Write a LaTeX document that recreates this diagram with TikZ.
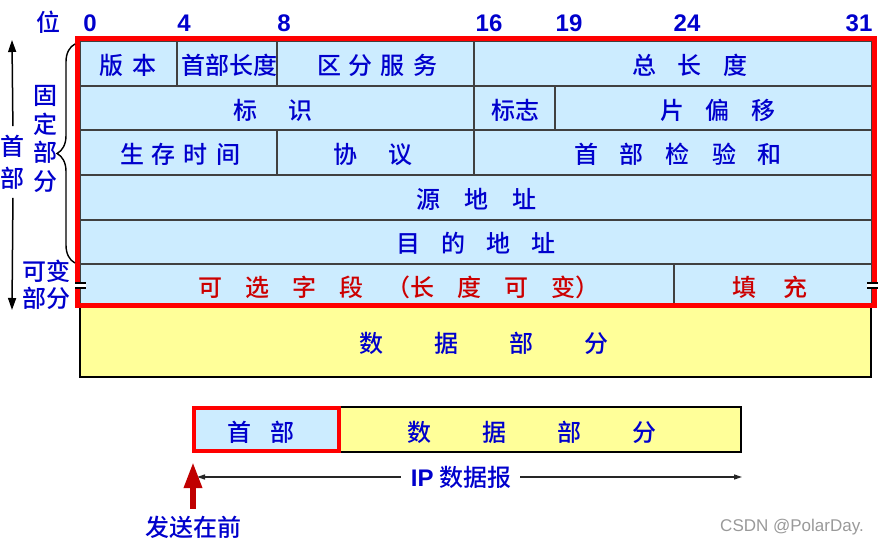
\documentclass[tikz,border=0pt]{standalone}
\usepackage{fontspec}
\setmainfont{Noto Sans CJK SC}[BoldFont={Noto Sans CJK SC Medium}]
\setsansfont{Liberation Sans}
\usepackage{tikz}
\usetikzlibrary{arrows.meta}
\usetikzlibrary{decorations.pathreplacing}
\definecolor{hdrblue}{RGB}{204,236,255}
\definecolor{datayellow}{RGB}{255,255,153}
\definecolor{txtblue}{RGB}{0,0,204}
\definecolor{txtred}{RGB}{204,0,0}
\definecolor{framered}{RGB}{255,0,0}
\definecolor{sendred}{RGB}{192,0,0}
\newcommand{\gp}[1]{\hspace{#1pt}}
\tikzset{
  cell/.style={draw=black!75, line width=1.2pt, fill=hdrblue},
  datacell/.style={draw=black, line width=1.8pt, fill=datayellow},
  lbl/.style={text=txtblue, inner sep=0pt, font=\fontsize{24}{28}\selectfont\bfseries},
  bitlbl/.style={text=txtblue, inner sep=0pt, font=\fontsize{24}{26}\selectfont\sffamily\bfseries},
  vec/.style={-{Triangle[length=12pt,width=8pt]}, line width=1.5pt, black},
  thinarrow/.style={-{Triangle[length=8pt,width=5pt]}, line width=1.3pt, black!85},
}

\begin{document}
\begin{tikzpicture}[x=1pt,y=-1pt]
\useasboundingbox (0,0) rectangle (884,545);
% bit positions
\node[lbl] (wei) at (48,22) {位};
\foreach \x/\b in {90/0, 184/4, 284/8, 489/16, 569/19, 687/24, 859/31} {
\node[bitlbl] (bit\b) at (\x,23) {\b};
}
% header fields
\foreach \xa/\ya/\xb/\yb in {80/41/177/86, 177/41/277/86, 277/41/474/86, 474/41/872/86,
  80/86/474/130, 474/86/555/130, 555/86/872/130,
  80/130/277/175, 277/130/474/175, 474/130/872/175,
  80/175/872/220, 80/220/872/264, 80/264/674/305, 674/264/872/305} {
\draw[cell] (\xa,\ya) rectangle (\xb,\yb);
}
\draw[datacell] (80,305) rectangle (871,377);
\node[lbl] (ver) at (128,65) {版\gp{9}本};
\node[lbl] (ihl) at (229,65) {首部长度};
\node[lbl] (tos) at (377,65) {区\gp{8}分\gp{8}服\gp{8}务};
\node[lbl] (totlen) at (690,65) {总\gp{22}长\gp{22}度};
\node[lbl] (ident) at (273,110) {标\gp{31}识};
\node[lbl] (flags) at (515,110) {标志};
\node[lbl] (frag) at (718,110) {片\gp{22}偏\gp{22}移};
\node[lbl] (ttl) at (180,154) {生\gp{8}存\gp{8}时\gp{8}间};
\node[lbl] (proto) at (373,154) {协\gp{31}议};
\node[lbl] (csum) at (678,154) {首\gp{22}部\gp{22}检\gp{22}验\gp{22}和};
\node[lbl] (src) at (476,199) {源\gp{24}地\gp{24}址};
\node[lbl] (dst) at (476,243) {目\gp{21}的\gp{21}地\gp{21}址};
\node[lbl, text=txtred] (opt) at (399,287) {可\gp{23}选\gp{23}字\gp{23}段\gp{23}（长\gp{23}度\gp{23}可\gp{23}变）};
\node[lbl, text=txtred] (pad) at (770,287) {填\gp{28}充};
\node[lbl] (data) at (484,343) {数\gp{51}据\gp{51}部\gp{51}分};
% red frame round the header
\draw[framered, line width=5pt] (77.5,38.5) rectangle (874.5,305.5);
% break marks of the variable part
\fill[white] (75,282) rectangle (86,289);
\draw[black, line width=1.3pt] (75,283) -- (86,283) (75,288) -- (86,288);
\fill[white] (867,282) rectangle (878,289);
\draw[black, line width=1.3pt] (867,283) -- (878,283) (867,288) -- (878,288);
% left side labels
\node[lbl, align=center, font=\fontsize{24}{32}\selectfont\bfseries] (hdr) at (13,162.5) {首\\部};
\coordinate (hdrtop) at (12,40);
\coordinate (hdrbot) at (12,310);
\draw[vec, shorten <=9pt] (hdr.north) -- (hdrtop);
\draw[vec, shorten <=8pt] (hdr.south) -- (hdrbot);
\node[lbl, align=center, font=\fontsize{24}{28.5}\selectfont\bfseries] (fixed) at (46,139) {固\\定\\部\\分};
\node[lbl, align=center, font=\fontsize{24}{27.5}\selectfont\bfseries] (var) at (47,285) {可变\\部分};
\draw[line width=1.4pt, decorate, decoration={brace, amplitude=18pt}] (75,263) -- (75,44);
% datagram
\draw[datacell, line width=1.5pt] (339,407) rectangle (741,452);
\draw[cell, draw=framered, line width=3.5pt] (194,408) rectangle (339,451);
\node[lbl] (hdrpart) at (261,432) {首\gp{20}部};
\node[lbl] (datapart) at (532,432) {数\gp{51}据\gp{51}部\gp{51}分};
\node[lbl] (ipdg) at (461,477) {{\sffamily IP} 数据报};
\coordinate (dgleft) at (197,477);
\coordinate (dgright) at (742,477);
\draw[thinarrow, shorten <=10pt] (ipdg.west) -- (dgleft);
\draw[thinarrow, shorten <=9pt] (ipdg.east) -- (dgright);
\node[lbl] (send) at (193,527) {发送在前};
\coordinate (sendtip) at (193,462);
\draw[sendred, line width=6pt, -{Triangle[length=26pt,width=17pt]}, shorten <=7pt] (send.north) -- (sendtip);
\node[text=black!40, inner sep=0pt, font=\fontsize{17}{20}\selectfont\sffamily] (mark) at (792,527) {CSDN @PolarDay.};
\end{tikzpicture}
\end{document}
